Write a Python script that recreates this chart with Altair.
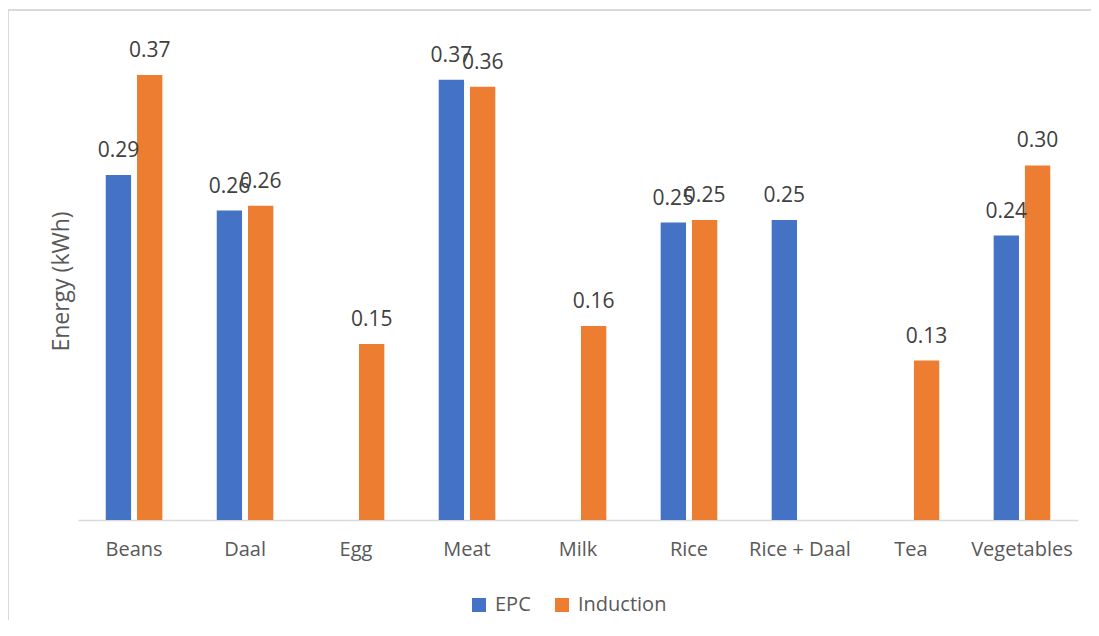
import altair as alt
import pandas as pd

categories = ["Beans", "Daal", "Egg", "Meat", "Milk", "Rice", "Rice + Daal", "Tea", "Vegetables"]
epc = [0.29, 0.26, None, 0.37, None, 0.25, 0.252, None, 0.239]
induction = [0.374, 0.264, 0.148, 0.364, 0.163, 0.252, None, 0.134, 0.298]
methods = ["EPC", "Induction"]
colors = ["#4472C4", "#ED7D31"]

rows = []
for c, e, i in zip(categories, epc, induction):
    if e is not None:
        rows.append({"Food": c, "Method": "EPC", "Energy": e})
    if i is not None:
        rows.append({"Food": c, "Method": "Induction", "Energy": i})
df = pd.DataFrame(rows)

FONT = "Open Sans"

x_enc = alt.X(
    "Food:N",
    sort=categories,
    scale=alt.Scale(paddingInner=0.49, paddingOuter=0.25),
    axis=alt.Axis(
        title=None, labelAngle=0, ticks=False, domainColor="#d9d9d9", domainWidth=1.5,
        labelFont=FONT, labelFontSize=20, labelColor="#595959", labelPadding=19,
        grid=False,
    ),
)
xoff_enc = alt.XOffset("Method:N", scale=alt.Scale(domain=methods, paddingInner=0.19))
y_enc = alt.Y(
    "Energy:Q",
    scale=alt.Scale(domain=[0, 0.4]),
    axis=alt.Axis(
        labels=False, ticks=False, domain=False, grid=False,
        title="Energy (kWh)", titleFont=FONT, titleFontSize=23, titleFontWeight="normal",
        titleColor="#595959", titleX=-17, titleY=237, titleBaseline="middle",
    ),
)

base = alt.Chart(df).encode(x=x_enc, xOffset=xoff_enc, y=y_enc)

bars = base.mark_bar().encode(
    color=alt.Color(
        "Method:N",
        scale=alt.Scale(domain=methods, range=colors),
        legend=alt.Legend(
            title=None, orient="none", direction="horizontal", legendX=391, legendY=551,
            symbolType="square", symbolSize=196, symbolStrokeWidth=0, labelFont=FONT,
            labelFontSize=20, labelColor="#595959", labelOffset=6, columnPadding=21,
            padding=0,
        ),
    )
)

labels = base.mark_text(
    dy=-18, baseline="alphabetic", fontSize=21, font=FONT, color="#404040"
).encode(text=alt.Text("Energy:Q", format=".2f"))

frame_src = pd.DataFrame({"a": [0]})
frame_top = alt.Chart(frame_src).mark_rule(color="#d9d9d9", strokeWidth=2).encode(
    x=alt.value(-70), x2=alt.value(1013), y=alt.value(-34)
)
frame_left = alt.Chart(frame_src).mark_rule(color="#d9d9d9", strokeWidth=2).encode(
    x=alt.value(-70), y=alt.value(-34), y2=alt.value(600)
)

chart = alt.layer(frame_top, frame_left, bars, labels).properties(
    width=1000, height=476,
    autosize=alt.AutoSizeParams(type="none"),
    padding={"left": 70, "top": 36, "right": 13, "bottom": 100},
).configure_view(strokeWidth=0)

chart.save("out.html", embed_options={"renderer": "svg", "actions": False})
